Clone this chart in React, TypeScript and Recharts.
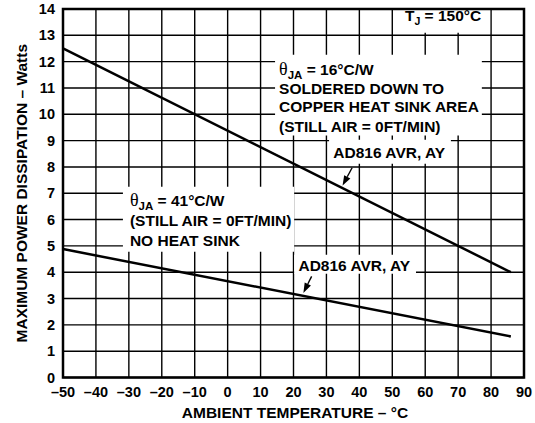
import React from 'react'
import { LineChart, Line, XAxis, YAxis, CartesianGrid, ReferenceArea, ReferenceLine } from 'recharts'

// ambient temperature (°C) and max power dissipation (W) for both mountings
const tempC = [-50, 86]
const sinkWatts = [12.5, 4.0]
const noSinkWatts = [4.88, 1.56]

const xTicks = [-50, -40, -30, -20, -10, 0, 10, 20, 30, 40, 50, 60, 70, 80, 90]
const yTicks = [0, 1, 2, 3, 4, 5, 6, 7, 8, 9, 10, 11, 12, 13, 14]

const sinkNote = ['SOLDERED DOWN TO', 'COPPER HEAT SINK AREA', '(STILL AIR = 0FT/MIN)']
const noSinkNote = ['(STILL AIR = 0FT/MIN)', 'NO HEAT SINK']
const partLabel = 'AD816 AVR, AY'

const data = tempC.map((t, i) => ({ t, sink: sinkWatts[i], noSink: noSinkWatts[i] }))

const FONT = '"Liberation Sans", Arial, Helvetica, sans-serif'
const textStyle = { fontFamily: FONT, fontWeight: 700, fontSize: 15.5, fill: '#000' }

function Theta({ x, y, value }: { x: number; y: number; value: string }) {
  return (
    <text x={x} y={y} style={textStyle}>
      <tspan style={{ fontFamily: '"Liberation Serif", "DejaVu Serif", serif', fontWeight: 400, fontSize: 18 }}>θ</tspan>
      <tspan dy={4} style={{ fontSize: 11.5 }}>JA</tspan>
      <tspan dy={-4}> = {value}</tspan>
    </text>
  )
}

// white note box content, offsets measured from the box's top-left corner
function note(dx: number, baselines: number[], lines: React.ReactNode[]) {
  return (props: any) => {
    const { x, y } = props.viewBox
    return (
      <g>
        {lines.map((l, i) =>
          typeof l === 'string' ? (
            <text key={i} x={x + dx} y={y + baselines[i]} style={textStyle}>
              {l}
            </text>
          ) : (
            <g key={i}>{React.cloneElement(l as any, { x: x + dx, y: y + baselines[i] })}</g>
          )
        )}
      </g>
    )
  }
}

function tjLabel(props: any) {
  const { x, y } = props.viewBox
  return (
    <text x={x + 11} y={y + 12} style={textStyle}>
      T<tspan dy={4} style={{ fontSize: 10.5 }}>J</tspan>
      <tspan dy={-4}> = 150°C</tspan>
    </text>
  )
}

function arrow(props: any) {
  const { x1, y1, x2, y2 } = props
  const len = Math.hypot(x2 - x1, y2 - y1)
  const ux = (x2 - x1) / len
  const uy = (y2 - y1) / len
  const hl = 10
  const hw = 3.5
  const bx = x2 - ux * hl
  const by = y2 - uy * hl
  return (
    <g>
      <line x1={x1} y1={y1} x2={bx} y2={by} stroke="#000" strokeWidth={1.4} />
      <polygon
        points={`${x2},${y2} ${bx - uy * hw},${by + ux * hw} ${bx + uy * hw},${by - ux * hw}`}
        fill="#000"
      />
    </g>
  )
}

const tickStyle = { fontFamily: FONT, fontWeight: 700, fontSize: 14.5, fill: '#000' }

export default function App() {
  return (
    <div style={{ position: 'absolute', left: 0, top: 0, width: 535, height: 423, background: '#fff' }}>
      <LineChart width={535} height={423} data={data} margin={{ top: 9, right: 11, bottom: 0, left: 0 }}>
        <CartesianGrid stroke="#000" strokeWidth={1.4} />
        <XAxis
          dataKey="t"
          type="number"
          domain={[-50, 90]}
          ticks={xTicks}
          interval={0}
          height={45.5}
          axisLine={false}
          tickLine={false}
          tickSize={0}
          tickMargin={9}
          tick={tickStyle}
          tickFormatter={(v: number) => (v < 0 ? `–${-v}` : `${v}`)}
          label={{
            content: (p: any) => (
              <text
                x={p.viewBox.x + p.viewBox.width / 2 + 1.5}
                y={p.viewBox.y + 40.5}
                textAnchor="middle"
                style={textStyle}
              >
                AMBIENT TEMPERATURE – °C
              </text>
            ),
          }}
        />
        <YAxis
          type="number"
          domain={[0, 14]}
          ticks={yTicks}
          interval={0}
          width={63}
          axisLine={false}
          tickLine={false}
          tickSize={0}
          tickMargin={8}
          tick={tickStyle}
          label={{
            content: (p: any) => {
              const cy = p.viewBox.y + p.viewBox.height / 2
              return (
                <text
                  x={26.5}
                  y={cy}
                  textAnchor="middle"
                  transform={`rotate(-90, 26.5, ${cy})`}
                  style={textStyle}
                >
                  MAXIMUM POWER DISSIPATION – Watts
                </text>
              )
            },
          }}
        />
        <ReferenceArea x1={50.5} x2={79.7} y1={13.1} y2={14} fill="#fff" fillOpacity={1} stroke="none" label={tjLabel} />
        <ReferenceArea
          x1={14.4}
          x2={77.2}
          y1={9.19}
          y2={12.26}
          fill="#fff"
          fillOpacity={1}
          stroke="none"
          label={note(4, [20.5, 39, 57.5, 77.5], [<Theta x={0} y={0} value="16°C/W" />, ...sinkNote])}
        />
        <ReferenceArea
          x1={30.8}
          x2={67.8}
          y1={8.12}
          y2={9.03}
          fill="#fff"
          fillOpacity={1}
          stroke="none"
          label={note(4.3, [18.3], [partLabel])}
        />
        <ReferenceArea
          x1={-31.8}
          x2={20.2}
          y1={4.78}
          y2={7.25}
          fill="#fff"
          fillOpacity={1}
          stroke="none"
          label={note(7, [19, 39.7, 59.7], [<Theta x={0} y={0} value="41°C/W" />, ...noSinkNote])}
        />
        <ReferenceArea
          x1={20.2}
          x2={57.2}
          y1={3.94}
          y2={4.66}
          fill="#fff"
          fillOpacity={1}
          stroke="none"
          label={note(4.3, [16], [partLabel])}
        />
        <ReferenceLine segment={[{ x: 37.8, y: 7.97 }, { x: 34.9, y: 7.29 }]} shape={arrow} />
        <ReferenceLine segment={[{ x: 25.5, y: 3.84 }, { x: 23.0, y: 3.21 }]} shape={arrow} />
        <Line dataKey="sink" stroke="#000" strokeWidth={2.5} dot={false} isAnimationActive={false} />
        <Line dataKey="noSink" stroke="#000" strokeWidth={2.5} dot={false} isAnimationActive={false} />
        <ReferenceArea x1={-50} x2={90} y1={0} y2={14} fill="none" stroke="#000" strokeWidth={2.5} />
      </LineChart>
    </div>
  )
}
